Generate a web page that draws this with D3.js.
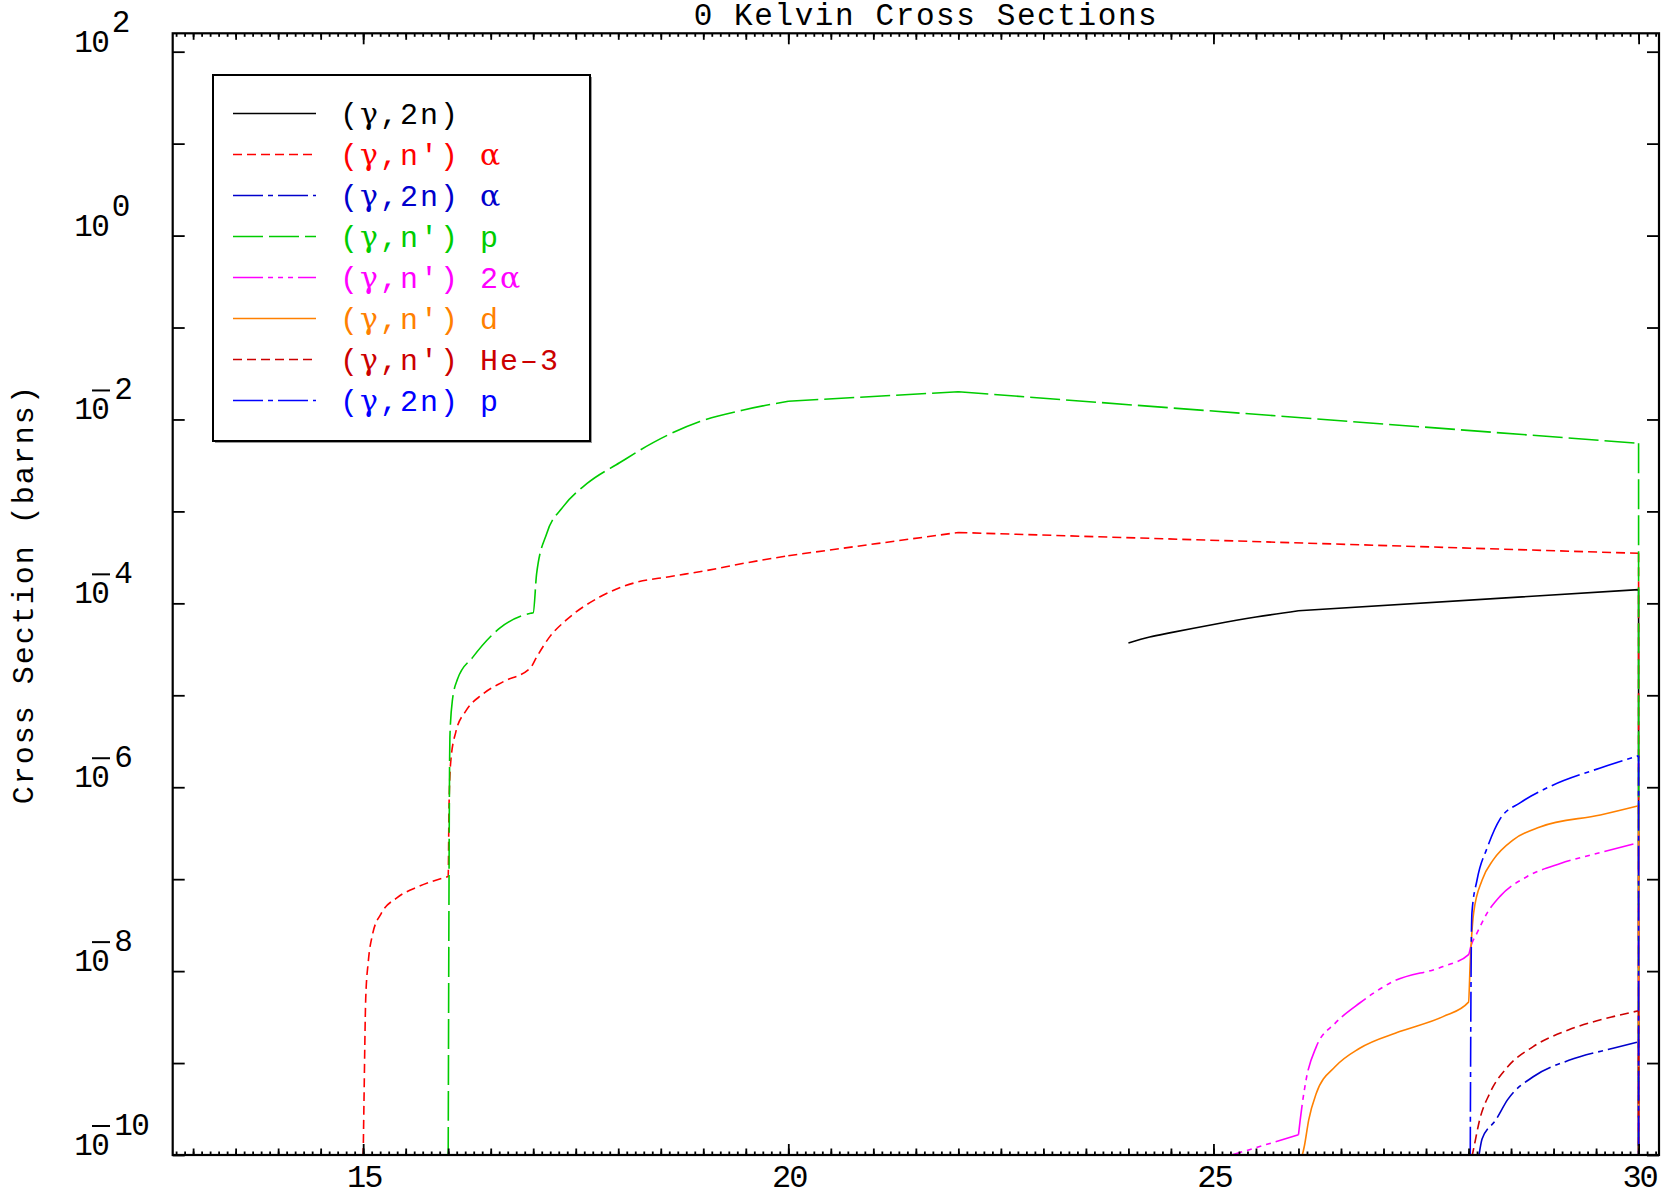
<!DOCTYPE html>
<html>
<head>
<meta charset="utf-8">
<script src="https://cdn.jsdelivr.net/npm/d3@7"></script>
<style>
body { margin: 0; background: #fff; }
text { font-family: "Liberation Mono", "DejaVu Sans Mono", monospace; }
.greek { font-family: "DejaVu Serif", "Liberation Serif", serif; }
</style>
</head>
<body>
<div id="chart-area"></div>
<script>
// canvas + plot box
var W = 1663, H = 1196;
var margin = { left: 172.7, right: 4, top: 33.3, bottom: 41 };
var width = W - margin.left - margin.right;
var height = H - margin.top - margin.bottom;

// series data (energy in MeV, cross section in barns; 0 = below the plot)
var e2n      = [24.0, 24.25, 24.5, 25.0, 25.5, 26.0, 30.0, 30.0];
var sig2n    = [3.7e-5, 4.3e-5, 4.8e-5, 5.9e-5, 7.1e-5, 8.3e-5, 1.41e-4, 0];

var eNpA     = [15.0, 15.01, 15.03, 15.06, 15.11, 15.21, 15.4, 15.65, 15.97, 16.0, 16.01, 16.03, 16.09, 16.21, 16.4, 16.65, 16.97, 17.04, 17.2, 17.39, 17.78, 18.18, 18.6, 19.0, 19.5, 20.0, 22.0, 30.0, 30.0];
var sigNpA   = [0, 4.0e-10, 5.0e-9, 1.26e-8, 2.5e-8, 4.2e-8, 6.3e-8, 8.3e-8, 1.05e-7, 1.07e-7, 6.3e-7, 1.9e-6, 4.0e-6, 6.8e-6, 1.02e-5, 1.41e-5, 2.0e-5, 2.6e-5, 4.4e-5, 6.6e-5, 1.17e-4, 1.66e-4, 1.95e-4, 2.24e-4, 2.75e-4, 3.3e-4, 5.9e-4, 3.5e-4, 0];

var e2nA     = [28.12, 28.16, 28.32, 28.46, 28.76, 29.18, 29.7, 30.0, 30.0];
var sig2nA   = [0, 1.5e-10, 2.4e-10, 4.0e-10, 7.1e-10, 1.07e-9, 1.45e-9, 1.7e-9, 0];

var eNpP     = [16.0, 16.02, 16.05, 16.11, 16.29, 16.61, 16.97, 17.0, 17.04, 17.16, 17.35, 17.63, 18.02, 18.41, 18.96, 19.46, 20.0, 22.0, 30.0, 30.0];
var sigNpP   = [0, 3.5e-6, 8.9e-6, 1.5e-5, 2.6e-5, 5.4e-5, 7.8e-5, 7.9e-5, 2.1e-4, 5.8e-4, 1.12e-3, 2.0e-3, 3.4e-3, 5.6e-3, 9.5e-3, 1.26e-2, 1.58e-2, 2.0e-2, 5.5e-3, 0];

var eNp2A    = [25.0, 26.0, 26.02, 26.09, 26.21, 26.43, 26.72, 27.1, 27.7, 28.0, 28.03, 28.1, 28.22, 28.37, 28.69, 29.08, 29.55, 30.0, 30.0];
var sigNp2A  = [8.7e-11, 1.66e-10, 2.4e-10, 6.6e-10, 1.51e-9, 2.7e-9, 4.5e-9, 7.6e-9, 1.12e-8, 1.51e-8, 1.9e-8, 2.6e-8, 4.3e-8, 6.5e-8, 1.07e-7, 1.48e-7, 1.95e-7, 2.5e-7, 0];

var eNpD     = [26.04, 26.07, 26.12, 26.21, 26.43, 26.72, 27.19, 27.7, 28.0, 28.02, 28.06, 28.16, 28.29, 28.53, 28.84, 29.55, 30.0, 30.0];
var sigNpD   = [0, 1.26e-10, 2.4e-10, 4.7e-10, 9.1e-10, 1.45e-9, 2.2e-9, 3.2e-9, 4.6e-9, 1.26e-8, 4.3e-8, 9.8e-8, 1.62e-7, 2.7e-7, 3.7e-7, 5.0e-7, 6.3e-7, 0];

var eNpHe3   = [28.04, 28.07, 28.13, 28.25, 28.46, 28.76, 29.18, 29.7, 30.0, 30.0];
var sigNpHe3 = [0, 1.3e-10, 2.4e-10, 4.7e-10, 9.1e-10, 1.51e-9, 2.3e-9, 3.2e-9, 3.7e-9, 0];

var e2nP     = [28.02, 28.03, 28.04, 28.1, 28.22, 28.37, 28.61, 28.96, 29.55, 30.0, 30.0];
var sig2nP   = [0, 1.0e-8, 4.3e-8, 9.8e-8, 2.2e-7, 4.5e-7, 6.8e-7, 1.02e-6, 1.62e-6, 2.2e-6, 0];

// legend labels: [reaction, ejectile]
var seriesNames = [["(γ,2n)", ""], ["(γ,n')", "α"], ["(γ,2n)", "α"], ["(γ,n')", "p"], ["(γ,n')", "2α"], ["(γ,n')", "d"], ["(γ,n')", "He\u20133"], ["(γ,2n)", "p"]];
var seriesX = [e2n, eNpA, e2nA, eNpP, eNp2A, eNpD, eNpHe3, e2nP];
var seriesY = [sig2n, sigNpA, sig2nA, sigNpP, sigNp2A, sigNpD, sigNpHe3, sig2nP];
var colors = ["#000000", "#ff0000", "#0000cc", "#00cc00", "#ff00ff", "#ff8000", "#cc0000", "#0000ff"];
var dashes = [null, "9,5", "30,5,5,5", "30,6", "30,5,5,5,5,5,5,5", null, "9,5", "30,5,5,5"];

var xTicks = [15, 20, 25, 30];
var yExps = [2, 0, -2, -4, -6, -8, -10];

var svg = d3.select("#chart-area")
    .append("svg")
    .attr("width", W)
    .attr("height", H);

var x = d3.scaleLinear().domain([12.76, 30.24]).range([0, width]);
var y = d3.scaleLog().domain([1e-10, Math.pow(10, 2.2)]).range([height, 0]);

var g = svg.append("g").attr("transform", "translate(" + margin.left + "," + margin.top + ")");

g.append("clipPath").attr("id", "clip")
    .append("rect").attr("width", width).attr("height", height);

// curves: dense stretches smoothed, wide gaps and the drop at 30 kept straight
function px(d) { return x(d[0]); }
function py(d) { return d[1] > 0 ? y(d[1]) : height + 2; }

function buildPath(pts) {
    var p = d3.path();
    var smooth = d3.line().curve(d3.curveMonotoneX).x(px).y(py).context(p);
    var straight = d3.line().x(px).y(py).context(p);
    var run = [pts[0]];
    for (var i = 1; i < pts.length; i++) {
        var dx = pts[i][0] - pts[i - 1][0];
        if (dx > 0 && dx < 0.9) {
            run.push(pts[i]);
        } else {
            if (run.length > 1) smooth(run);
            straight([pts[i - 1], pts[i]]);
            run = [pts[i]];
        }
    }
    if (run.length > 1) smooth(run);
    return p.toString();
}

seriesX.forEach(function(xs, i) {
    var pts = xs.map(function(v, j) { return [v, seriesY[i][j]]; });
    g.append("path")
        .attr("clip-path", "url(#clip)")
        .attr("d", buildPath(pts))
        .attr("fill", "none")
        .attr("stroke", colors[i])
        .attr("stroke-width", 1.6)
        .attr("stroke-dasharray", dashes[i]);
});

// x ticks: 0.1 minor, 0.5 medium, 5 major (inward on bottom and top)
var minorX = d3.range(128, 303).map(function(d) { return d / 10; });
var medX = d3.range(26, 61).map(function(d) { return d / 2; });
[[minorX, 3.5], [medX, 6.5], [xTicks, 11]].forEach(function(t) {
    g.append("g").attr("transform", "translate(0," + height + ")")
        .call(d3.axisBottom(x).tickValues(t[0]).tickSize(-t[1]).tickFormat(""))
        .call(function(a) { a.select(".domain").remove(); });
    g.append("g")
        .call(d3.axisTop(x).tickValues(t[0]).tickSize(-t[1]).tickFormat(""))
        .call(function(a) { a.select(".domain").remove(); });
});
g.selectAll(".tick line").attr("stroke", "#000").attr("stroke-width", 1.6);

g.selectAll(".xlab").data(xTicks).enter().append("text")
    .attr("x", function(d) { return x(d) + 1; })
    .attr("y", height + 32)
    .attr("text-anchor", "middle")
    .attr("font-size", 32)
    .attr("letter-spacing", -2)
    .text(function(d) { return d; });

// y ticks every decade on both sides
var decades = d3.range(-10, 3).map(function(e) { return Math.pow(10, e); });
g.append("g")
    .call(d3.axisLeft(y).tickValues(decades).tickSize(-12).tickFormat(""))
    .call(function(a) { a.select(".domain").remove(); });
g.append("g").attr("transform", "translate(" + width + ",0)")
    .call(d3.axisRight(y).tickValues(decades).tickSize(-12).tickFormat(""))
    .call(function(a) { a.select(".domain").remove(); });
g.selectAll(".tick line").attr("stroke", "#000").attr("stroke-width", 1.8);

// y labels 10^n, minus drawn as a bar over the 0 like the original
yExps.forEach(function(e) {
    var yy = y(Math.pow(10, e));
    g.append("text").attr("x", -98.5).attr("y", yy)
        .attr("font-size", 31).attr("letter-spacing", -1.5).text("10");
    g.append("text").attr("x", e < 0 ? -58.5 : -61).attr("y", yy - 20)
        .attr("font-size", 31).attr("letter-spacing", -1.5).text(Math.abs(e));
    if (e < 0) {
        g.append("line")
            .attr("x1", -80.7).attr("x2", -62.7)
            .attr("y1", yy - 29).attr("y2", yy - 29)
            .attr("stroke", "#000").attr("stroke-width", 2);
    }
});

// frame
g.append("rect").attr("width", width).attr("height", height)
    .attr("fill", "none").attr("stroke", "#000").attr("stroke-width", 2.2);

// title + y label
svg.append("text").attr("x", 926).attr("y", 25)
    .attr("text-anchor", "middle").attr("font-size", 31)
    .attr("letter-spacing", 1.6)
    .text("0 Kelvin Cross Sections");

svg.append("text")
    .attr("transform", "translate(33," + (margin.top + height / 2) + ") rotate(-90)")
    .attr("text-anchor", "middle").attr("font-size", 30)
    .attr("letter-spacing", 2)
    .text("Cross Section (barns)");

// legend
var leg = svg.append("g").attr("transform", "translate(213,75)");
leg.append("rect").attr("x", 2).attr("y", 2).attr("width", 377).attr("height", 366).attr("fill", "#999");
leg.append("rect").attr("width", 377).attr("height", 366)
    .attr("fill", "#fff").attr("stroke", "#000").attr("stroke-width", 2);

// split a label so the greek letters get a font that draws them properly
function addLabel(sel, str) {
    str.split(/([γα])/).forEach(function(part) {
        if (part === "") return;
        var t = sel.append("tspan").text(part);
        if (part === "γ" || part === "α") t.attr("class", "greek");
    });
}

seriesNames.forEach(function(name, i) {
    var ly = 38.5 + i * 41;
    leg.append("line")
        .attr("x1", 20).attr("x2", 103)
        .attr("y1", ly).attr("y2", ly)
        .attr("stroke", colors[i])
        .attr("stroke-width", 1.6)
        .attr("stroke-dasharray", dashes[i]);
    var t1 = leg.append("text")
        .attr("x", 127).attr("y", ly + 10)
        .attr("font-size", 30)
        .attr("letter-spacing", 2)
        .attr("fill", colors[i]);
    addLabel(t1, name[0]);
    if (name[1]) {
        var t2 = leg.append("text")
            .attr("x", 267).attr("y", ly + 10)
            .attr("font-size", 30)
            .attr("letter-spacing", 2)
            .attr("fill", colors[i]);
        addLabel(t2, name[1]);
    }
});
</script>
</body>
</html>
